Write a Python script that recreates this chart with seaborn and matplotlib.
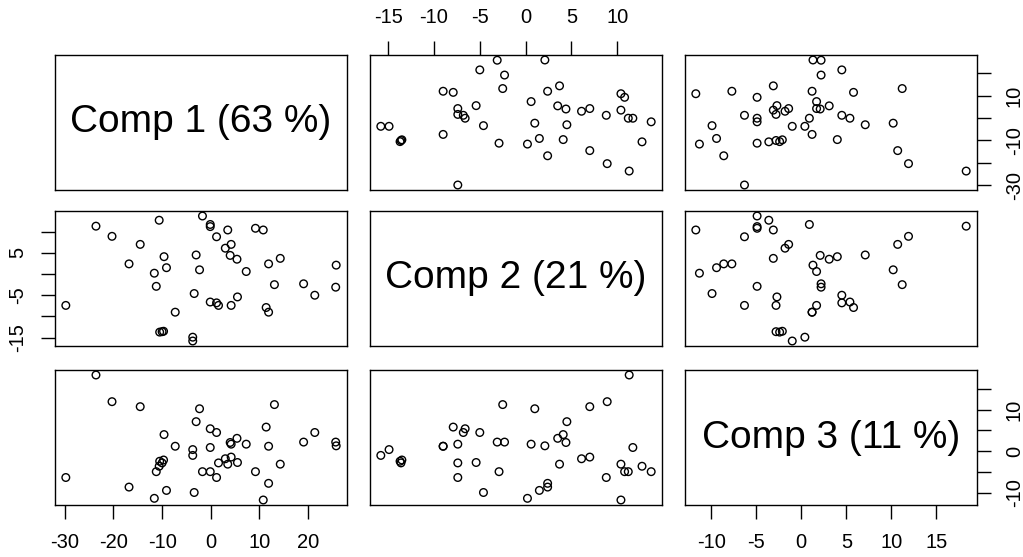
import matplotlib
matplotlib.use("Agg")
import matplotlib.pyplot as plt
import pandas as pd
import seaborn as sns

# Principal component scores (one value per observation)
comp1 = [-1.7, -23.6, -10.6, -0.1, -0.1, 3.5, 1.2, 9.2, 10.8, -20.3,
         -14.5, 4.2, 3.0, 4.0, 5.4, -3.0, -9.6, -16.8, -9.1, -11.6,
         -2.3, 7.3, 11.9, 14.3, 25.8, -11.2, -3.4, 13.1, 19.1, 25.7,
         21.4, -29.8, 5.5, -0.1, 1.2, 1.6, 4.2, 11.4, 11.9, -7.3,
         -10.5, -9.7, -10.0, -3.7, -3.7]
comp2 = [13.7, 11.3, 12.7, 11.7, 11.2, 10.4, 8.8, 10.8, 10.4, 8.9,
         7.0, 7.0, 6.1, 4.4, 3.5, 4.5, 4.1, 2.4, 1.5, 0.2,
         1.0, 0.6, 2.4, 3.7, 2.1, -2.9, -4.6, -2.5, -2.3, -3.1,
         -5.0, -7.4, -5.4, -6.6, -6.8, -7.4, -7.4, -7.9, -9.0, -9.0,
         -13.7, -13.5, -13.6, -14.9, -15.8]
comp3 = [-4.9, 18.3, -3.6, 0.9, -4.9, -3.1, -6.3, -4.9, -11.7, 11.9,
         10.7, -1.4, -1.8, 2.1, 3.1, 7.1, 4.0, -8.6, -9.4, -11.3,
         10.2, 1.7, -7.7, -3.1, 1.3, -4.9, -9.9, 11.2, 2.2, 2.2,
         4.5, -6.3, -2.7, 5.4, 4.5, -2.8, 1.7, 5.8, 1.2, 1.2,
         -2.4, -2.1, -2.8, 0.4, -1.0]

variables = ["Comp1", "Comp2", "Comp3"]
diag_labels = ["Comp 1 (63 %)", "Comp 2 (21 %)", "Comp 3 (11 %)"]

tick_values = {
    "Comp1": [-30, -20, -10, 0, 10, 20],
    "Comp2": [-15, -10, -5, 0, 5, 10],
    "Comp3": [-10, -5, 0, 5, 10, 15],
}
# rotated (vertical) axes only label every other tick
vertical_labels = {
    "Comp1": [-30, -10, 10],
    "Comp2": [-15, -5, 5],
    "Comp3": [-10, 0, 10],
}

df = pd.DataFrame({"Comp1": comp1, "Comp2": comp2, "Comp3": comp3})

sns.set_style("white")
plt.rcParams["font.family"] = ["Liberation Sans", "DejaVu Sans"]

W, H = 1023, 557
fig = plt.figure(figsize=(W / 100, H / 100), dpi=100)

col_left = [55, 370, 685]
row_top = [55, 211, 370]
pw, ph = 292, 135

limits = {}
for v in variables:
    lo, hi = df[v].min(), df[v].max()
    pad = 0.04 * (hi - lo)
    limits[v] = (lo - pad, hi + pad)

tick_kw = dict(length=10, width=1.0, pad=10, labelsize=14.5,
               color="black", labelcolor="black", direction="out")

for i, yv in enumerate(variables):
    for j, xv in enumerate(variables):
        rect = [col_left[j] / W, 1 - (row_top[i] + ph) / H, pw / W, ph / H]
        ax = fig.add_axes(rect)
        ax.set_xlim(*limits[xv])
        ax.set_ylim(*limits[yv])
        if i == j:
            ax.text(0.5, 0.5, diag_labels[i], transform=ax.transAxes,
                    ha="center", va="center", fontsize=28, color="black")
        else:
            sns.scatterplot(data=df, x=xv, y=yv, ax=ax, s=30,
                            facecolors="none", edgecolor="black",
                            linewidth=1.0, legend=False)
        ax.set_xlabel("")
        ax.set_ylabel("")
        for sp in ax.spines.values():
            sp.set_visible(True)
            sp.set_color("black")
            sp.set_linewidth(1.0)
        ax.tick_params(axis="both", which="both", bottom=False, top=False,
                       left=False, right=False, labelbottom=False,
                       labeltop=False, labelleft=False, labelright=False)
        ax.set_xticks([])
        ax.set_yticks([])

        # x axes: bottom for columns 1 and 3, top for column 2
        if i == 2 and j in (0, 2):
            ax.set_xticks(tick_values[xv], labels=[str(t) for t in tick_values[xv]])
            ax.tick_params(axis="x", bottom=True, labelbottom=True, **tick_kw)
        if i == 0 and j == 1:
            ax.set_xticks(tick_values[xv], labels=[str(t) for t in tick_values[xv]])
            ax.tick_params(axis="x", top=True, labeltop=True, **tick_kw)
        # y axes: left for row 2, right for rows 1 and 3
        if j == 0 and i == 1:
            labs = [str(t) if t in vertical_labels[yv] else "" for t in tick_values[yv]]
            ax.set_yticks(tick_values[yv], labels=labs)
            ax.tick_params(axis="y", left=True, labelleft=True,
                           labelrotation=90, **tick_kw)
            for t in ax.get_yticklabels():
                t.set_va("center")
        if j == 2 and i in (0, 2):
            labs = [str(t) if t in vertical_labels[yv] else "" for t in tick_values[yv]]
            ax.set_yticks(tick_values[yv], labels=labs)
            ax.tick_params(axis="y", right=True, labelright=True,
                           labelrotation=90, **tick_kw)
            for t in ax.get_yticklabels():
                t.set_va("center")

fig.savefig("out.png", dpi=100, facecolor="white")
